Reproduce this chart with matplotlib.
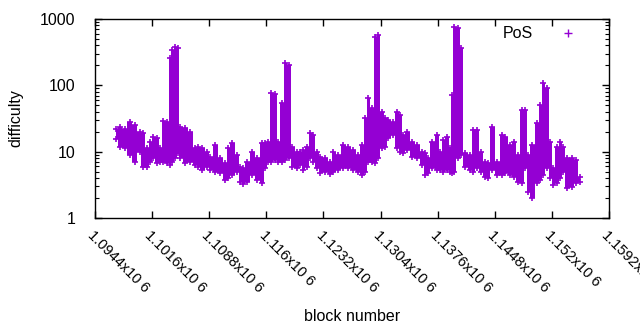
import numpy as np
import matplotlib.pyplot as plt

plt.rcParams['font.family'] = ['Liberation Sans', 'DejaVu Sans']

# block number (sampled along the chain) and the spread of difficulty seen there
blocks = [1097050, 1097550, 1098180, 1098810, 1099440, 1100070, 1100450, 1100960,
          1101340, 1101710, 1102220, 1102600, 1102970, 1103480, 1103860, 1104110,
          1104490, 1104870, 1105120, 1105750, 1106380, 1107010, 1107390, 1107890,
          1108520, 1108900, 1109530, 1110160, 1110790, 1111170, 1111680, 1112310,
          1112680, 1113060, 1113570, 1114200, 1114830, 1115460, 1115840, 1116220,
          1116590, 1117100, 1117480, 1117980, 1118360, 1118860, 1119240, 1119870,
          1120250, 1120630, 1121130, 1121510, 1121890, 1122390, 1122770, 1123400,
          1124030, 1124410, 1125040, 1125670, 1126300, 1126930, 1127560, 1128070,
          1128450, 1128830, 1129330, 1129710, 1130090, 1130590, 1130970, 1131350,
          1131980, 1132480, 1132860, 1133240, 1133740, 1134370, 1135000, 1135630,
          1136010, 1136390, 1136900, 1137530, 1137900, 1138280, 1138790, 1139170,
          1139420, 1139670, 1140170, 1140550, 1141060, 1141690, 1142070, 1142570,
          1143070, 1143580, 1143960, 1144460, 1145090, 1145720, 1146100, 1146730,
          1147240, 1147740, 1148240, 1148620, 1149000, 1149510, 1150140, 1150510,
          1150890, 1151400, 1151780, 1152150, 1152660, 1153040, 1153420, 1153920,
          1154550, 1155050, 1155560]
diff_hi = [22, 23.6, 22, 28, 25, 19.8, 19.1, 11.4,
           14, 16.7, 16.1, 11.4, 29, 28, 259, 342,
           379, 367, 23.6, 22.8, 19.8, 11.4, 11.8, 11.4,
           9.9, 8.3, 12.6, 8.0, 6.8, 11.4, 13.5, 8.9,
           5.9, 5.7, 7.0, 9.9, 8.0, 13.5, 13.5, 14,
           77, 74, 14, 54, 218, 203, 11.8, 9.9,
           9.9, 10.6, 11.8, 19.1, 17.9, 9.9, 8.3, 8.0,
           7.0, 9.9, 8.9, 12.6, 11.8, 10.6, 8.9, 12.6,
           32, 65, 46, 537, 575, 40, 32, 30,
           28, 40, 36, 17.9, 19.8, 14, 12.6, 9.9,
           9.6, 8.0, 14, 17.9, 9.9, 15, 16.7, 11.4,
           72, 760, 734, 367, 9.6, 8.9, 21.2, 21.2,
           9.9, 7.0, 6.8, 23.6, 7.0, 17.9, 16.7, 12.6,
           14, 8.9, 43, 43, 8.9, 12.6, 27, 51,
           109, 91, 14, 5.7, 11.8, 14, 11.8, 8.0,
           8.0, 7.5, 4.2]
diff_lo = [15.5, 11.8, 11.4, 8.9, 7.0, 9.9, 5.9, 5.9,
           7.0, 8.0, 6.8, 7.0, 7.0, 6.8, 6.3, 7.0,
           8.0, 9.6, 8.0, 6.8, 7.0, 6.3, 5.9, 5.3,
           5.9, 5.3, 4.9, 4.8, 3.7, 4.0, 4.5, 4.9,
           3.5, 3.3, 3.5, 4.5, 3.7, 3.4, 5.7, 7.0,
           7.0, 7.5, 7.0, 7.0, 7.5, 8.0, 5.9, 5.7,
           6.3, 5.3, 5.9, 8.0, 7.0, 5.7, 4.8, 4.9,
           4.6, 4.9, 5.3, 5.7, 5.7, 5.3, 4.9, 4.5,
           4.9, 7.0, 7.0, 6.8, 8.0, 11.4, 11.8, 16.1,
           17.9, 11.4, 9.9, 9.6, 10.6, 8.3, 8.0, 6.3,
           4.5, 4.8, 5.7, 5.3, 5.3, 4.9, 5.3, 4.9,
           4.8, 4.9, 8.0, 8.9, 5.9, 5.3, 4.9, 5.7,
           4.9, 4.2, 4.0, 5.3, 4.5, 4.5, 4.8, 4.5,
           4.2, 3.5, 3.4, 5.7, 2.5, 2.0, 3.4, 3.7,
           4.5, 5.7, 4.0, 3.1, 3.4, 4.0, 4.9, 2.8,
           2.9, 3.4, 3.5]

xticks = np.arange(1094400, 1159300, 7200)
xtick_labels = ['%gx10 6' % (t / 1e6) for t in xticks]

purple = '#9400d3'

fig = plt.figure(figsize=(6.4, 3.3), dpi=100)
ax = fig.add_axes([95 / 640, 1 - 218 / 330, 514 / 640, 199 / 330])

ax.fill_between(blocks, diff_lo, diff_hi, step='mid', color=purple, lw=0)
ax.plot(blocks, diff_hi, '+', color=purple, ms=4.5, mew=1.2)
ax.plot(blocks, diff_lo, '+', color=purple, ms=4.5, mew=1.2)
ax.plot([], [], '+', color=purple, ms=6, mew=1, label='PoS')

ax.set_yscale('log')
ax.set_ylim(1, 1000)
ax.set_xlim(xticks[0], xticks[-1])
ax.set_xticks(xticks)
ax.set_xticklabels(xtick_labels, rotation=-45, ha='left', va='top',
                   rotation_mode='anchor', fontsize=10.5)
ax.set_yticks([1, 10, 100, 1000])
ax.set_yticklabels(['1', '10', '100', '1000'], fontsize=11.5)

ax.tick_params(which='both', direction='in', top=True, right=True, color='black')
ax.tick_params(which='major', length=5, width=1)
ax.tick_params(which='minor', length=3, width=0.8)
ax.tick_params(axis='x', which='major', pad=7)
ax.tick_params(axis='y', which='major', pad=14)
ax.tick_params(axis='x', which='minor', bottom=False, top=False)
for s in ax.spines.values():
    s.set_linewidth(1)

ax.set_xlabel('block number', fontsize=11.5, labelpad=10)
ax.set_ylabel('difficulty', fontsize=11.5, labelpad=12)

ax.legend(loc='upper right', bbox_to_anchor=(1 - 4 / 514, 1.035), frameon=False,
          markerfirst=False, fontsize=11.5, handlelength=2.8, handletextpad=0.8)

fig.savefig('out.png', dpi=100)
